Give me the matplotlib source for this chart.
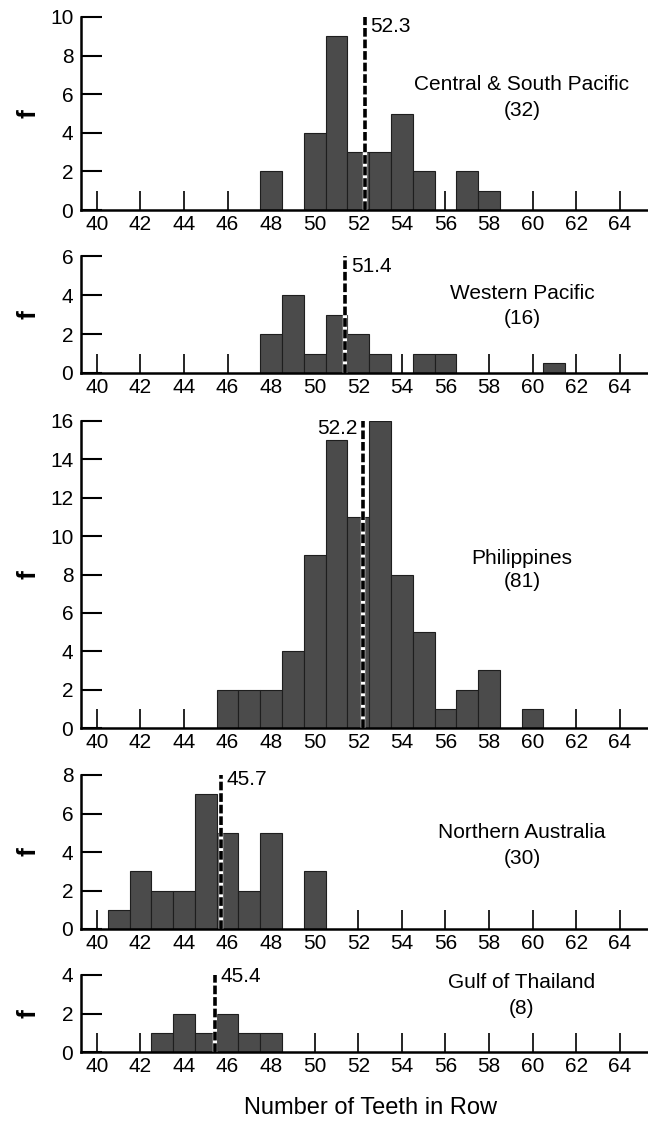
import matplotlib
matplotlib.use("Agg")
import matplotlib.pyplot as plt
import numpy as np

plt.rcParams['font.family'] = ['Liberation Sans', 'DejaVu Sans']

# ---- data ----
regions = ["Central & South Pacific", "Western Pacific", "Philippines",
           "Northern Australia", "Gulf of Thailand"]
sample_n = [32, 16, 81, 30, 8]
means = [52.3, 51.4, 52.2, 45.7, 45.4]

centers_cs = [48, 50, 51, 52, 53, 54, 55, 57, 58]
counts_cs = [2, 4, 9, 3, 3, 5, 2, 2, 1]
centers_wp = [48, 49, 50, 51, 52, 53, 55, 56, 61]
counts_wp = [2, 4, 1, 3, 2, 1, 1, 1, 0.5]
centers_ph = [46, 47, 48, 49, 50, 51, 52, 53, 54, 55, 56, 57, 58, 60]
counts_ph = [2, 2, 2, 4, 9, 15, 11, 16, 8, 5, 1, 2, 3, 1]
centers_na = [41, 42, 43, 44, 45, 46, 47, 48, 50]
counts_na = [1, 3, 2, 2, 7, 5, 2, 5, 3]
centers_gt = [43, 44, 45, 46, 47, 48]
counts_gt = [1, 2, 1, 2, 1, 1]

y_max = [10, 6, 16, 8, 4]
x_ticks = list(range(40, 65, 2))
x_label = "Number of Teeth in Row"
y_label = "f"

centers_all = [centers_cs, centers_wp, centers_ph, centers_na, centers_gt]
counts_all = [counts_cs, counts_wp, counts_ph, counts_na, counts_gt]

# ---- layout (pixels) ----
W, H = 648, 1121
fig = plt.figure(figsize=(W / 100, H / 100), dpi=100)
panel_px = [(17, 210), (256, 373), (421, 728), (775, 929), (975, 1052)]
left_px, right_px = 81, 648
mean_label_y = [9.5, 5.45, 15.6, 7.75, 3.9]
mean_label_side = ['right', 'right', 'left', 'right', 'right']
title_px = [(125, 100), (80, 55), (169, 146), (96, 71), (70, 44)]

for i in range(5):
    top, bot = panel_px[i]
    ax = fig.add_axes([left_px / W, 1 - bot / H, (right_px - left_px) / W, (bot - top) / H])
    ax.bar(centers_all[i], counts_all[i], width=1.0, color='#4b4b4b',
           edgecolor='#1e1e1e', linewidth=0.8, zorder=2)
    ax.set_xlim(39.27, 65.3)
    ax.set_ylim(0, y_max[i])
    for s in ['top', 'right']:
        ax.spines[s].set_visible(False)
    for s in ['left', 'bottom']:
        ax.spines[s].set_linewidth(1.8)
    ax.set_xticks(x_ticks)
    ax.set_yticks(np.arange(0, y_max[i] + 1, 2))
    ax.tick_params(axis='x', direction='in', length=13.8, width=1.2, pad=3.5,
                   labelsize=15)
    ax.tick_params(axis='y', direction='in', length=15, width=1.5, pad=5.5,
                   labelsize=15)
    # mean line
    m = means[i]
    ax.axvline(m, ymin=0, ymax=1, color='white', lw=3.2, zorder=3)
    ax.axvline(m, ymin=0, ymax=1, color='black', lw=2.6,
               linestyle=(0, (2.4, 0.8)), zorder=4)
    if mean_label_side[i] == 'right':
        ax.annotate(f"{m:.1f}", xy=(m, mean_label_y[i]), xytext=(4, 0),
                    textcoords='offset points', ha='left', va='center',
                    fontsize=15, zorder=5)
    else:
        ax.annotate(f"{m:.1f}", xy=(m, mean_label_y[i]), xytext=(-4, 0),
                    textcoords='offset points', ha='right', va='center',
                    fontsize=15, zorder=5)
    # region title
    hpx = bot - top
    t1, t2 = title_px[i]
    xc = (522 - left_px) / (right_px - left_px)
    ax.text(xc, t1 / hpx, regions[i], transform=ax.transAxes, ha='center',
            va='center', fontsize=15)
    ax.text(xc, t2 / hpx, f"({sample_n[i]})", transform=ax.transAxes,
            ha='center', va='center', fontsize=15)
    # y label
    ax.text((28 - left_px) / (right_px - left_px), 0.5, y_label,
            transform=ax.transAxes, rotation=90, ha='center', va='center',
            fontsize=19, fontweight='bold')

fig.text(370 / W, 1 - 1108 / H, x_label, ha='center', va='center', fontsize=17)

fig.savefig("out.png", dpi=100, facecolor='white')
